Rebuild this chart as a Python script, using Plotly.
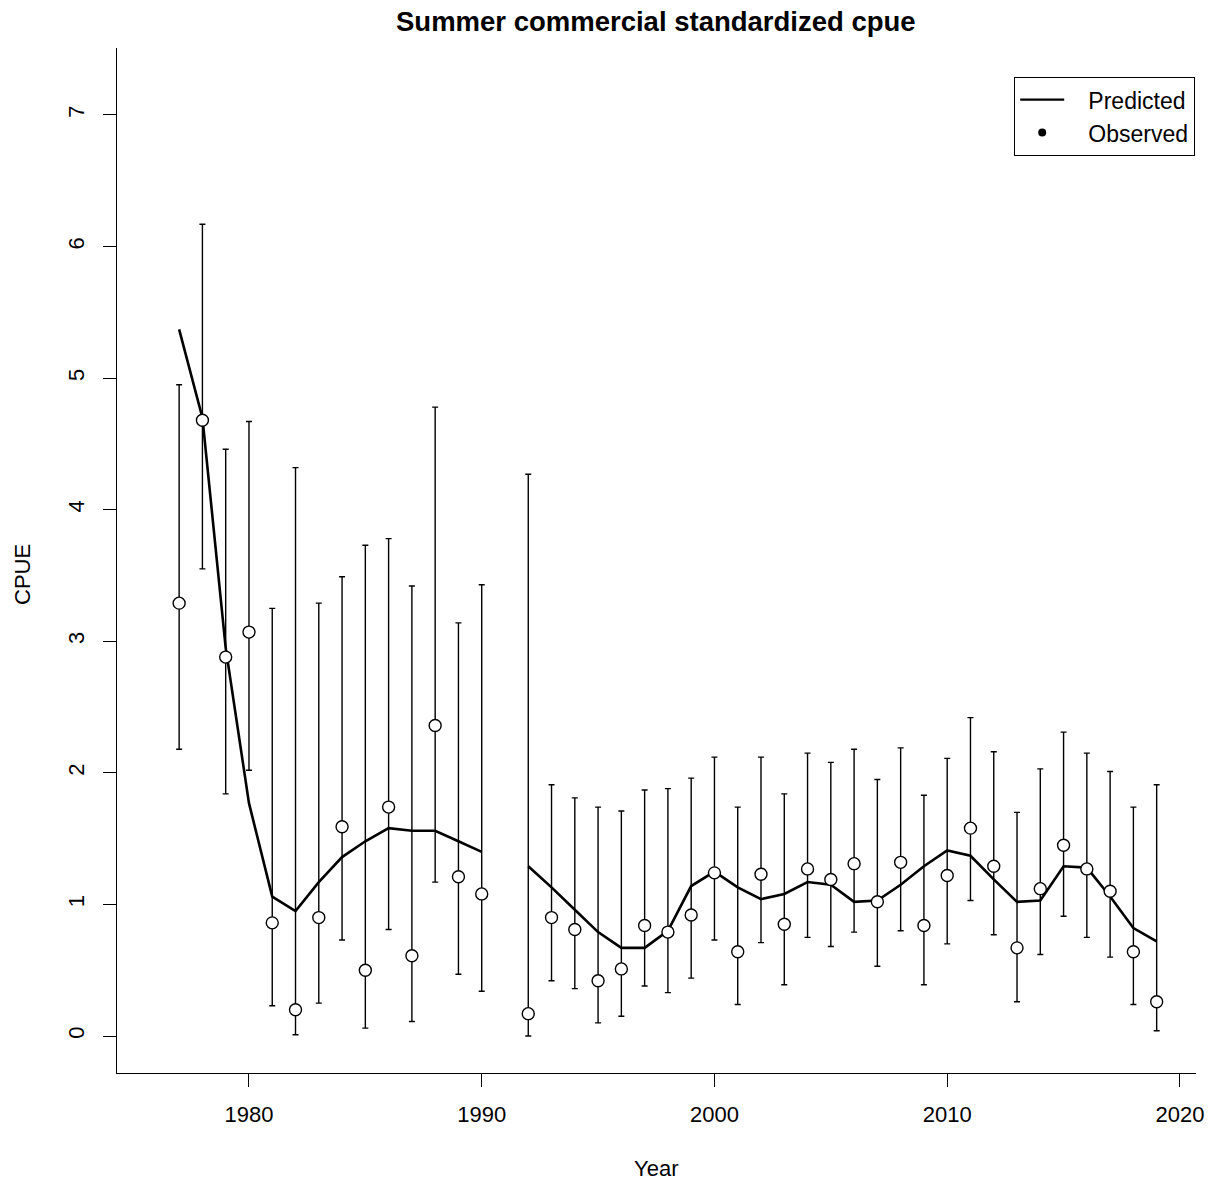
import plotly.graph_objects as go

years = [1977, 1978, 1979, 1980, 1981, 1982, 1983, 1984, 1985, 1986, 1987, 1988, 1989, 1990,
         1991,
         1992, 1993, 1994, 1995, 1996, 1997, 1998, 1999, 2000, 2001, 2002, 2003, 2004, 2005,
         2006, 2007, 2008, 2009, 2010, 2011, 2012, 2013, 2014, 2015, 2016, 2017, 2018, 2019]

observed = [3.29, 4.68, 2.88, 3.07, 0.86, 0.20, 0.90, 1.59, 0.50, 1.74, 0.61, 2.36, 1.21, 1.08,
            None,
            0.17, 0.90, 0.81, 0.42, 0.51, 0.84, 0.79, 0.92, 1.24, 0.64, 1.23, 0.85, 1.27, 1.19,
            1.31, 1.02, 1.32, 0.84, 1.22, 1.58, 1.29, 0.67, 1.12, 1.45, 1.27, 1.10, 0.64, 0.26]

upper = [4.95, 6.17, 4.46, 4.67, 3.25, 4.32, 3.29, 3.49, 3.73, 3.78, 3.42, 4.78, 3.14, 3.43,
         None,
         4.27, 1.91, 1.81, 1.74, 1.71, 1.87, 1.88, 1.96, 2.12, 1.74, 2.12, 1.84, 2.15, 2.08,
         2.18, 1.95, 2.19, 1.83, 2.11, 2.42, 2.16, 1.70, 2.03, 2.31, 2.15, 2.01, 1.74, 1.91]

lower = [2.18, 3.55, 1.84, 2.02, 0.23, 0.01, 0.25, 0.73, 0.06, 0.81, 0.11, 1.17, 0.47, 0.34,
         None,
         0.00, 0.42, 0.36, 0.10, 0.15, 0.38, 0.33, 0.44, 0.73, 0.24, 0.71, 0.39, 0.75, 0.68,
         0.79, 0.53, 0.80, 0.39, 0.70, 1.03, 0.77, 0.26, 0.62, 0.91, 0.75, 0.60, 0.24, 0.04]

predicted = [5.37, 4.70, 2.95, 1.77, 1.06, 0.95, 1.17, 1.36, 1.48, 1.58, 1.56, 1.56, 1.48, 1.40,
             None,
             1.29, 1.13, 0.96, 0.79, 0.67, 0.67, 0.80, 1.14, 1.25, 1.13, 1.04, 1.08, 1.17, 1.15,
             1.02, 1.03, 1.15, 1.29, 1.41, 1.37, 1.19, 1.02, 1.03, 1.29, 1.28, 1.06, 0.82, 0.72]

x_ticks = [1980, 1990, 2000, 2010, 2020]
y_ticks = [0, 1, 2, 3, 4, 5, 6, 7]

err_plus = [None if (u is None or o is None) else u - o for u, o in zip(upper, observed)]
err_minus = [None if (l is None or o is None) else o - l for l, o in zip(lower, observed)]

FONT = "Liberation Sans, Arial, sans-serif"
PAD = "\u00a0\u00a0\u00a0"

fig = go.Figure()

# predicted line
fig.add_trace(go.Scatter(
    x=years, y=predicted, mode="lines",
    line=dict(color="black", width=2.6),
    connectgaps=False, showlegend=False, hoverinfo="skip"))

# observed with error bars
fig.add_trace(go.Scatter(
    x=years, y=observed, mode="markers",
    marker=dict(symbol="circle", size=12, color="white",
                line=dict(color="black", width=1.4)),
    error_y=dict(type="data", symmetric=False, array=err_plus, arrayminus=err_minus,
                 color="black", thickness=1.4, width=3),
    showlegend=False))

# legend entries
fig.add_trace(go.Scatter(x=[None], y=[None], mode="lines", name=PAD + "Predicted",
                         line=dict(color="black", width=2.2)))
fig.add_trace(go.Scatter(x=[None], y=[None], mode="markers", name=PAD + "Observed",
                         marker=dict(symbol="circle", size=8, color="black")))

plot_h = 1186 - 48 - 113
plot_w = 1222 - 117 - 26
def py(pix):
    return (1073 - pix) / plot_h
def px(pix):
    return (pix - 117) / plot_w

fig.update_layout(
    width=1222, height=1186,
    margin=dict(l=117, r=26, t=48, b=113),
    paper_bgcolor="white", plot_bgcolor="white",
    font=dict(family=FONT, size=22, color="black"),
    showlegend=True,
    legend=dict(x=px(1195), y=py(77), xanchor="right", yanchor="top",
                bordercolor="black", borderwidth=1.2, bgcolor="white",
                font=dict(size=23, family=FONT), itemwidth=44,
                tracegroupgap=0),
)

fig.add_annotation(text="<b>Summer commercial standardized cpue</b>",
                   x=px(656), y=py(22), xref="paper", yref="paper",
                   showarrow=False, xanchor="center", yanchor="middle",
                   font=dict(size=27.5, family=FONT, color="black"))
fig.add_annotation(text="Year", x=px(656), y=py(1168), xref="paper", yref="paper",
                   showarrow=False, xanchor="center", yanchor="middle",
                   font=dict(size=22, family=FONT, color="black"))
fig.add_annotation(text="CPUE", x=px(22), y=py(575), xref="paper", yref="paper",
                   showarrow=False, xanchor="center", yanchor="middle", textangle=-90,
                   font=dict(size=22, family=FONT, color="black"))

fig.update_xaxes(range=[1974.33, 2020.69], tickvals=x_ticks,
                 ticktext=[str(v) for v in x_ticks],
                 showgrid=False, zeroline=False, showline=True, linecolor="black",
                 linewidth=1.3, ticks="outside", ticklen=13, tickwidth=1.3,
                 tickcolor="black", ticklabelstandoff=8,
                 tickfont=dict(size=22, family=FONT))
fig.update_yaxes(range=[-0.281, 7.509], tickvals=y_ticks,
                 ticktext=[str(v) for v in y_ticks],
                 showgrid=False, zeroline=False, showline=True, linecolor="black",
                 linewidth=1.3, ticks="outside", ticklen=13, tickwidth=1.3,
                 tickcolor="black", tickangle=-90, ticklabelstandoff=10,
                 tickfont=dict(size=22, family=FONT))

fig.write_html("out.html")
